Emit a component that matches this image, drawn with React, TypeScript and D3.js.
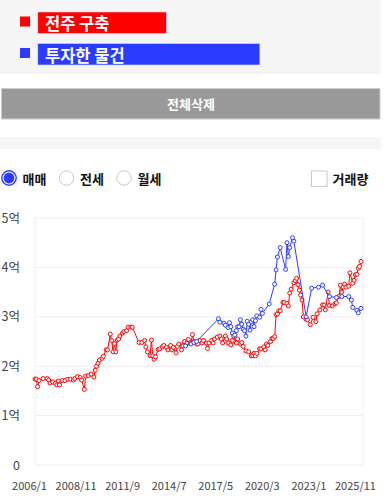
import React from "react";
import * as d3 from "d3";

const RED_DATES = ["2006-01","2006-02","2006-03","2006-04","2006-07","2006-10","2006-11","2006-12","2007-02","2007-04","2007-05","2007-06","2007-07","2007-09","2007-11","2008-01","2008-03","2008-05","2008-06","2008-08","2008-10","2008-11","2009-01","2009-02","2009-04","2009-06","2009-08","2009-09","2009-10","2009-11","2009-12","2010-02","2010-03","2010-05","2010-06","2010-08","2010-09","2010-10","2010-11","2010-12","2011-01","2011-02","2011-03","2011-05","2011-06","2011-08","2011-09","2011-11","2011-12","2012-05","2012-07","2012-09","2012-10","2012-11","2013-01","2013-02","2013-03","2013-04","2013-05","2013-07","2013-08","2013-10","2013-11","2014-01","2014-02","2014-04","2014-05","2014-06","2014-08","2014-09","2014-10","2014-12","2015-01","2015-02","2015-04","2015-05","2015-07","2015-08","2015-09","2015-11","2015-12","2016-01","2016-03","2016-04","2016-06","2016-07","2016-08","2016-10","2016-11","2016-12","2017-02","2017-04","2017-05","2017-06","2017-08","2017-09","2017-10","2017-12","2018-01","2018-02","2018-04","2018-05","2018-07","2018-08","2018-09","2018-11","2019-01","2019-03","2019-04","2019-05","2019-06","2019-07","2019-09","2019-10","2019-12","2020-01","2020-02","2020-03","2020-05","2020-06","2020-07","2020-08","2020-09","2020-10","2020-11","2020-12","2021-02","2021-03","2021-05","2021-06","2021-07","2021-08","2021-10","2021-11","2021-12","2022-01","2022-02","2022-03","2022-04","2022-05","2022-07","2022-08","2022-10","2022-12","2023-02","2023-03","2023-05","2023-07","2023-08","2023-09","2023-11","2023-12","2024-02","2024-04","2024-05","2024-07","2024-08","2024-09","2024-10","2024-11","2024-12","2025-02","2025-03","2025-05","2025-06","2025-07","2025-08","2025-09","2025-10","2025-11"];
const RED_VALUES = [1.74,1.735,1.585,1.71,1.75,1.75,1.72,1.66,1.68,1.65,1.62,1.70,1.62,1.71,1.71,1.735,1.735,1.72,1.75,1.79,1.77,1.72,1.53,1.80,1.81,1.84,1.78,1.92,2.00,2.06,2.125,2.16,2.20,2.33,2.33,2.65,2.52,2.29,2.46,2.29,2.53,2.55,2.61,2.67,2.70,2.72,2.79,2.79,2.79,2.48,2.48,2.52,2.39,2.29,2.21,2.53,2.21,2.14,2.19,2.34,2.35,2.39,2.42,2.38,2.33,2.42,2.33,2.38,2.27,2.40,2.45,2.33,2.41,2.50,2.47,2.54,2.47,2.64,2.50,2.45,2.45,2.52,2.47,2.52,2.47,2.36,2.47,2.52,2.47,2.55,2.59,2.61,2.55,2.47,2.61,2.55,2.47,2.43,2.52,2.61,2.47,2.55,2.45,2.48,2.40,2.31,2.29,2.21,2.22,2.26,2.21,2.26,2.35,2.35,2.39,2.33,2.45,2.42,2.50,2.56,2.56,2.60,3.04,3.06,3.12,3.12,3.29,3.29,3.27,3.22,3.48,3.56,3.69,3.73,3.78,3.65,3.54,3.44,3.34,3.00,2.95,2.94,2.84,2.99,2.90,3.06,3.14,3.24,3.24,3.14,3.50,3.23,3.22,3.26,3.28,3.41,3.64,3.50,3.60,3.66,3.60,3.62,3.89,3.68,3.74,3.85,3.86,3.98,4.02,4.12];

const BLUE_DATES = ["2015-03","2015-07","2015-09","2015-11","2017-03","2017-04","2017-07","2017-08","2017-10","2017-11","2017-12","2018-01","2018-03","2018-04","2018-05","2018-06","2018-07","2018-08","2018-09","2018-10","2018-11","2018-12","2019-01","2019-02","2019-03","2019-04","2019-05","2019-06","2019-07","2019-09","2019-10","2019-11","2020-04","2020-08","2020-09","2020-10","2020-12","2021-04","2021-05","2021-06","2021-07","2021-09","2021-10","2022-07","2022-11","2023-04","2023-07","2023-12","2024-05","2024-09","2025-02","2025-04","2025-05","2025-08","2025-09","2025-11"];
const BLUE_VALUES = [2.41,2.45,2.48,2.50,2.96,2.89,2.87,2.83,2.78,2.88,2.80,2.67,2.63,2.72,2.80,2.80,2.94,2.85,2.75,2.72,2.61,2.91,2.85,2.73,2.90,2.94,2.80,2.92,3.02,2.99,3.15,3.07,3.26,3.66,3.95,4.21,4.40,3.96,4.50,4.22,4.40,4.60,4.53,3.00,3.58,3.60,3.64,3.41,3.39,3.41,3.41,3.34,3.19,3.13,3.08,3.17];

const Y_TICKS = [0, 1, 2, 3, 4, 5];
const Y_LABELS = ["0", "1억", "2억", "3억", "4억", "5억"];
const X_TICKS = ["2006/1", "2008/11", "2011/9", "2014/7", "2017/5", "2020/3", "2023/1", "2025/11"];
const LEGEND = ["전주 구축", "투자한 물건"];
const RADIOS = ["매매", "전세", "월세"];

const RED = "#ff0000";
const BLUE = "#2a3cff";
const FONT = "'Noto Sans CJK KR', 'Noto Sans', sans-serif";

export default function App() {
  const parse = d3.timeParse("%Y-%m");
  const parseTick = d3.timeParse("%Y/%m");
  const x = d3.scaleTime().domain([parse("2006-01")!, parse("2025-11")!]).range([35, 361]);
  const y = d3.scaleLinear().domain([0, 5]).range([465, 218]);

  const red = RED_DATES.map((d, i) => ({ d: parse(d)!, v: RED_VALUES[i] }));
  const blue = BLUE_DATES.map((d, i) => ({ d: parse(d)!, v: BLUE_VALUES[i] }));
  const line = d3.line<{ d: Date; v: number }>().x((p) => x(p.d)).y((p) => y(p.v));

  const series = [
    { data: red, color: RED },
    { data: blue, color: BLUE },
  ];

  return (
    <svg width={384} height={497} style={{ position: "absolute", left: 0, top: 0, display: "block" }} fontFamily={FONT}>
      <rect x={0} y={0} width={381} height={74} fill="#f5f5f5" />
      {LEGEND.map((t, i) => {
        const c = i === 0 ? RED : BLUE;
        const top = i === 0 ? 12 : 43.5;
        const w = i === 0 ? 128.5 : 222;
        return (
          <g key={t}>
            <rect x={20} y={top + 4.5} width={10} height={10} fill={c} />
            <rect x={37.8} y={top} width={w} height={21.5} fill={c} stroke="#d8d8ff" strokeWidth={0.6} />
            <text x={45} y={top + 18} fill="#fff" fontSize={16.5} fontWeight={700}>{t}</text>
          </g>
        );
      })}
      <rect x={1.5} y={88.5} width={378.5} height={30.5} fill="#999999" stroke="#cccccc" strokeWidth={1} />
      <text x={191} y={109} fill="#fff" fontSize={13} fontWeight={700} textAnchor="middle">전체삭제</text>
      <rect x={0} y={137} width={381} height={12} fill="#f5f5f5" />

      {RADIOS.map((t, i) => {
        const cx = 9 + i * 57.5;
        return (
          <g key={t}>
            {i === 0 ? (
              <>
                <circle cx={cx} cy={178} r={7.2} fill="#fff" stroke={BLUE} strokeWidth={1.4} />
                <circle cx={cx} cy={178} r={5.4} fill={BLUE} />
              </>
            ) : (
              <circle cx={cx} cy={178} r={7.2} fill="#fff" stroke="#c8c8c8" strokeWidth={1} />
            )}
            <text x={cx + 13.5} y={183.5} fontSize={13} fontWeight={700} fill="#111">{t}</text>
          </g>
        );
      })}
      <rect x={311.5} y={171} width={15.5} height={15.5} fill="#fff" stroke="#c8c8c8" strokeWidth={1} />
      <text x={332.5} y={183.5} fontSize={13} fontWeight={700} fill="#111">거래량</text>

      {Y_TICKS.map((t, i) => (
        <g key={t}>
          <line x1={35} x2={363} y1={y(t)} y2={y(t)} stroke="#eeeeee" strokeWidth={1} />
          <text x={20} y={y(t) + 4.5} fontSize={12.5} fill="#444" textAnchor="end">{Y_LABELS[i]}</text>
        </g>
      ))}
      <line x1={35} x2={35} y1={y(5)} y2={y(0)} stroke="#eeeeee" />
      <line x1={363} x2={363} y1={y(5)} y2={y(0)} stroke="#eeeeee" />

      {X_TICKS.map((t) => (
        <text key={t} x={x(parseTick(t)!) - 5.5} y={489.5} fontSize={11} fill="#444" textAnchor="middle">{t}</text>
      ))}

      {series.map((s, si) => (
        <g key={si}>
          <path d={line(s.data) || ""} fill="none" stroke={s.color} strokeWidth={1} />
          {s.data.map((p, i) => (
            <circle key={i} cx={x(p.d)} cy={y(p.v)} r={2} fill="#fff" stroke={s.color} strokeWidth={1} />
          ))}
        </g>
      ))}
    </svg>
  );
}
